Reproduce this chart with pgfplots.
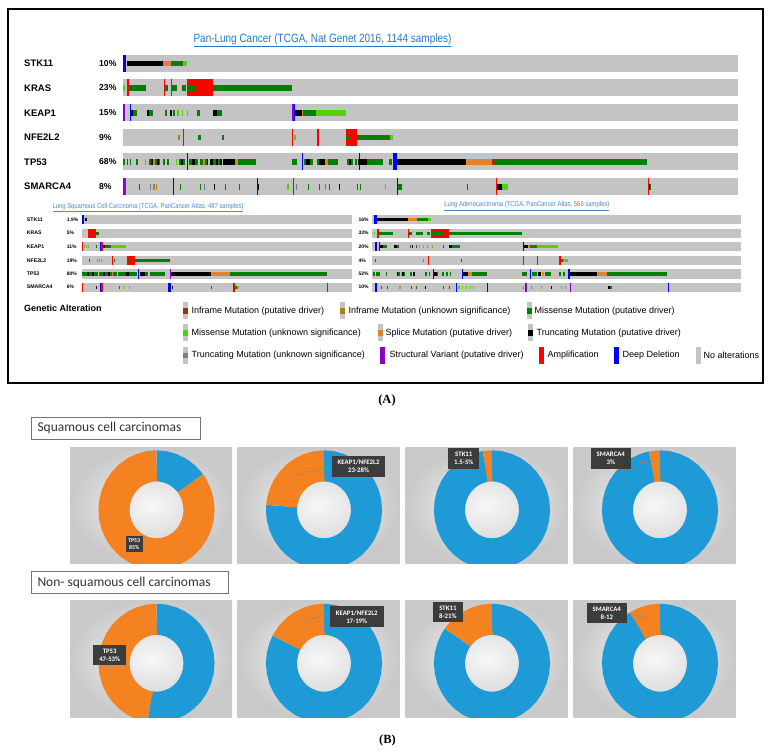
\documentclass[border=0pt]{standalone}
\usepackage{pgfplots}
\pgfplotsset{compat=1.18}
\usepackage{fontspec}
\setmainfont{Liberation Sans}
\newfontfamily\cond[FakeStretch=0.83]{Liberation Sans}
\newfontfamily\calib{Carlito}
\newfontfamily\serf{Liberation Serif}

\definecolor{nalt}{HTML}{C4C4C4}
\definecolor{mis}{HTML}{008000}
\definecolor{misu}{HTML}{53D400}
\definecolor{infr}{HTML}{993404}
\definecolor{infru}{HTML}{A68028}
\definecolor{spl}{HTML}{E5802B}
\definecolor{trc}{HTML}{000000}
\definecolor{trcu}{HTML}{708090}
\definecolor{sv}{HTML}{8B00C9}
\definecolor{amp}{HTML}{FF0000}
\definecolor{del}{HTML}{0000FF}
\definecolor{dblue}{HTML}{1E9BD7}
\definecolor{dorange}{HTML}{F58220}
\definecolor{lbl}{HTML}{3C3C3C}
\definecolor{ttl}{HTML}{2878C8}

\pgfplotsset{
  canvas/.style={at={(0pt,0pt)}, anchor=south west, width=774pt, height=754pt,
    scale only axis, xmin=0, xmax=774, ymin=0, ymax=754, y dir=reverse,
    hide axis, clip=false, unbounded coords=jump},
  panel/.style={anchor=south west, width=162pt, height=116.5pt, scale only axis,
    xmin=-1.526, xmax=1.332, ymin=-0.919, ymax=1.067,
    axis line style={draw=none}, xtick=\empty, ytick=\empty, clip=true,
    axis background/.style={shade, inner color=black!3, outer color=black!21}},
  mb/.style={line width=17pt},
  mm/.style={line width=5.7pt},
  sb/.style={line width=9.3pt},
  sm/.style={line width=3.3pt},
  ring/.style={line width=31pt, data cs=polar},
}
\tikzset{
  lblbox/.style={fill=lbl, text=white, align=center, inner xsep=6pt, inner ysep=4pt,
    font=\calib\bfseries\fontsize{6.8}{8}\selectfont},
  gene/.style={anchor=west, font=\bfseries\fontsize{9.5}{11}\selectfont, inner sep=0pt},
  pct/.style={anchor=west, font=\bfseries\fontsize{8.6}{10}\selectfont, inner sep=0pt},
  sgene/.style={anchor=west, font=\bfseries\fontsize{5.2}{6}\selectfont, inner sep=0pt},
  spct/.style={anchor=west, font=\bfseries\fontsize{5}{6}\selectfont, inner sep=0pt},
  leg/.style={anchor=west, font=\fontsize{9}{11}\selectfont, inner sep=0pt},
}

\begin{document}
\begin{tikzpicture}
\path[use as bounding box, fill=white] (0,0) rectangle (774pt,754pt);

% ---------------- panel A : oncoprints ----------------
\begin{axis}[canvas]
\addplot[black, line width=2pt] coordinates {(8.3,9.3)(763.3,9.3)(763.3,382.7)(8.3,382.7)} -- cycle;

\node[text=ttl, font=\cond\fontsize{12}{14}\selectfont] at (322.5,40)
  {\underline{Pan-Lung Cancer (TCGA, Nat Genet 2016, 1144 samples)}};

% main rows
\addplot[nalt, mb] coordinates {(123.3,63.5)(737.7,63.5) (nan,nan) (123.3,88)(737.7,88) (nan,nan)
  (123.3,112.8)(737.7,112.8) (nan,nan) (123.3,137.5)(737.7,137.5) (nan,nan)
  (123.3,162)(737.7,162) (nan,nan) (123.3,186.7)(737.7,186.7)};
% deep deletions
\addplot[del, mb] coordinates {(123.3,63.5)(126.3,63.5) (nan,nan) (129.5,112.8)(130.7,112.8) (nan,nan)
  (293.5,112.8)(294.7,112.8) (nan,nan) (187,162)(188.3,162) (nan,nan) (302,162)(303.3,162) (nan,nan)
  (358.5,162)(359.8,162) (nan,nan) (392.7,162)(396.7,162) (nan,nan) (173,186.7)(174.3,186.7) (nan,nan)
  (256.5,186.7)(257.7,186.7) (nan,nan) (397,186.7)(398.3,186.7)};
% amplifications
\addplot[amp, mb] coordinates {(126.7,88)(129.3,88) (nan,nan) (164,88)(165,88) (nan,nan) (170.7,88)(171.7,88) (nan,nan)
  (186.7,88)(213.3,88) (nan,nan) (183,137.5)(184,137.5) (nan,nan) (292,137.5)(293,137.5) (nan,nan)
  (316.7,137.5)(319,137.5) (nan,nan) (346,137.5)(356.7,137.5) (nan,nan) (124.5,186.7)(125.5,186.7) (nan,nan)
  (293,186.7)(294.3,186.7) (nan,nan) (496.3,186.7)(497.3,186.7) (nan,nan) (648,186.7)(649,186.7)};
% structural variants
\addplot[sv, mb] coordinates {(123.3,112.8)(124.8,112.8) (nan,nan) (292,112.8)(293.5,112.8) (nan,nan) (123.3,186.7)(124.5,186.7)};
% missense (putative driver)
\addplot[mis, mm] coordinates {(170.7,63.5)(183.3,63.5) (nan,nan)
  (129.3,88)(146,88) (nan,nan) (165,88)(168.3,88) (nan,nan) (172.3,88)(177.3,88) (nan,nan) (182.3,88)(186,88) (nan,nan)
  (186.7,88)(196,88) (nan,nan) (213.3,88)(291.7,88) (nan,nan)
  (132.7,112.8)(136.7,112.8) (nan,nan) (149.3,112.8)(153.3,112.8) (nan,nan) (165,112.8)(166.5,112.8) (nan,nan)
  (173.3,112.8)(174.5,112.8) (nan,nan) (196.7,112.8)(200,112.8) (nan,nan) (216.7,112.8)(221.7,112.8) (nan,nan)
  (302.7,112.8)(316,112.8) (nan,nan)
  (198.3,137.5)(201,137.5) (nan,nan) (221.7,137.5)(224.3,137.5) (nan,nan) (346,137.5)(348.5,137.5) (nan,nan)
  (356.7,137.5)(390,137.5) (nan,nan)
  (123.3,162)(125,162) (nan,nan) (126.5,162)(128,162) (nan,nan) (129.5,162)(131,162) (nan,nan) (136.2,162)(137.5,162) (nan,nan)
  (149,162)(151,162) (nan,nan) (155,162)(157,162) (nan,nan) (158.5,162)(160,162) (nan,nan) (163,162)(164.5,162) (nan,nan)
  (167,162)(168.5,162) (nan,nan) (178.7,162)(181,162) (nan,nan) (183,162)(185,162) (nan,nan) (189,162)(192,162) (nan,nan)
  (195,162)(198,162) (nan,nan) (200,162)(203,162) (nan,nan) (205,162)(207,162) (nan,nan) (213,162)(216,162) (nan,nan)
  (218,162)(220,162) (nan,nan) (224,162)(225.5,162) (nan,nan) (227,162)(228.5,162) (nan,nan) (238.3,162)(256,162) (nan,nan)
  (291.7,162)(296.7,162) (nan,nan) (304,162)(306,162) (nan,nan) (310,162)(313,162) (nan,nan) (316.5,162)(318.5,162) (nan,nan)
  (328.3,162)(338.3,162) (nan,nan) (346.7,162)(349,162) (nan,nan) (351,162)(353,162) (nan,nan) (354.5,162)(356.7,162) (nan,nan)
  (366.7,162)(383.3,162) (nan,nan) (389.3,162)(391.7,162) (nan,nan) (495,162)(647.3,162) (nan,nan)
  (139,186.7)(140.3,186.7) (nan,nan) (180,186.7)(181.3,186.7) (nan,nan) (200,186.7)(201.3,186.7) (nan,nan)
  (225,186.7)(226.3,186.7) (nan,nan) (239,186.7)(240.3,186.7) (nan,nan) (308,186.7)(309.3,186.7) (nan,nan)
  (319,186.7)(320.3,186.7) (nan,nan) (357,186.7)(358.3,186.7) (nan,nan) (359.8,186.7)(361,186.7) (nan,nan)
  (398.3,186.7)(401.7,186.7) (nan,nan) (466.5,186.7)(467.8,186.7) (nan,nan) (650,186.7)(651,186.7)};
% missense (unknown significance)
\addplot[misu, mm] coordinates {(183.3,63.5)(186.7,63.5) (nan,nan) (123.3,88)(124.8,88) (nan,nan)
  (177.3,112.8)(178.5,112.8) (nan,nan) (181.7,112.8)(182.9,112.8) (nan,nan) (186.7,112.8)(187.9,112.8) (nan,nan)
  (316,112.8)(346,112.8) (nan,nan) (294,137.5)(296,137.5) (nan,nan) (390,137.5)(393.3,137.5) (nan,nan)
  (145,162)(146,162) (nan,nan) (176,162)(177,162) (nan,nan) (230,162)(231,162) (nan,nan)
  (287,186.7)(289,186.7) (nan,nan) (501.7,186.7)(508.3,186.7)};
% truncating (putative driver)
\addplot[trc, mm] coordinates {(126.5,63.5)(163.3,63.5) (nan,nan)
  (130.7,112.8)(132.7,112.8) (nan,nan) (146.7,112.8)(149.3,112.8) (nan,nan) (170,112.8)(171.7,112.8) (nan,nan)
  (213.3,112.8)(216.7,112.8) (nan,nan) (295.3,112.8)(301.7,112.8) (nan,nan)
  (151,162)(153,162) (nan,nan) (157,162)(158.5,162) (nan,nan) (181,162)(183,162) (nan,nan) (192,162)(195,162) (nan,nan)
  (207,162)(208,162) (nan,nan) (210,162)(213,162) (nan,nan) (216,162)(218,162) (nan,nan) (220,162)(222,162) (nan,nan)
  (223,162)(235,162) (nan,nan) (306,162)(310,162) (nan,nan) (318.5,162)(325,162) (nan,nan) (349,162)(351,162) (nan,nan)
  (358,162)(366.7,162) (nan,nan) (396.7,162)(466,162) (nan,nan)
  (214,186.7)(215.3,186.7) (nan,nan) (257.7,186.7)(259,186.7) (nan,nan) (339,186.7)(340.3,186.7) (nan,nan)
  (497.3,186.7)(501.7,186.7) (nan,nan) (649,186.7)(650,186.7)};
% splice
\addplot[spl, mm] coordinates {(163.3,63.5)(170.7,63.5) (nan,nan) (301.7,112.8)(302.7,112.8) (nan,nan)
  (153,162)(155,162) (nan,nan) (203,162)(205,162) (nan,nan) (235,162)(238.3,162) (nan,nan) (325,162)(328.3,162) (nan,nan)
  (466,162)(491.7,162) (nan,nan) (385,186.7)(386.3,186.7)};
% inframe
\addplot[infr, mm] coordinates {(491.7,162)(495,162) (nan,nan) (329,186.7)(330.3,186.7)};
\addplot[infru, mm] coordinates {(178.3,137.5)(179.5,137.5) (nan,nan) (153.3,186.7)(154.5,186.7) (nan,nan)
  (155.5,186.7)(156.7,186.7) (nan,nan) (325,186.7)(326.3,186.7)};
\addplot[trcu, mm] coordinates {(150,186.7)(151.3,186.7) (nan,nan) (204,186.7)(205.3,186.7) (nan,nan) (296,186.7)(297.3,186.7)};

\node[gene] at (24,63.5) {STK11};   \node[pct] at (99,63.5) {10\%};
\node[gene] at (24,88) {KRAS};      \node[pct] at (99,88) {23\%};
\node[gene] at (24,112.8) {KEAP1};  \node[pct] at (99,112.8) {15\%};
\node[gene] at (24,137.5) {NFE2L2}; \node[pct] at (99,137.5) {9\%};
\node[gene] at (24,162) {TP53};     \node[pct] at (99,162) {68\%};
\node[gene] at (24,186.7) {SMARCA4};\node[pct] at (99,186.7) {8\%};

% sub oncoprints
\node[text=ttl!85, font=\cond\fontsize{7.1}{8}\selectfont] at (148,207.3)
  {\underline{Lung Squamous Cell Carcinoma (TCGA, PanCancer Atlas, 487 samples)}};
\node[text=ttl!85, font=\cond\fontsize{7.1}{8}\selectfont] at (526.8,206)
  {\underline{Lung Adenocarcinoma (TCGA, PanCancer Atlas, 566 samples)}};

\addplot[nalt, sb] coordinates {(82,219.5)(352.3,219.5) (nan,nan) (82,233.2)(352.3,233.2) (nan,nan)
  (82,246.8)(352.3,246.8) (nan,nan) (82,260.3)(352.3,260.3) (nan,nan) (82,274)(352.3,274) (nan,nan) (82,287.2)(352.3,287.2) (nan,nan)
  (372.3,219.5)(740.7,219.5) (nan,nan) (372.3,233.2)(740.7,233.2) (nan,nan) (372.3,246.8)(740.7,246.8) (nan,nan)
  (372.3,260.3)(740.7,260.3) (nan,nan) (372.3,274)(740.7,274) (nan,nan) (372.3,287.2)(740.7,287.2)};
\addplot[del, sb] coordinates {(82.3,219.5)(84.3,219.5) (nan,nan) (100,246.8)(101.3,246.8) (nan,nan) (137.8,274)(139,274) (nan,nan)
  (100,287.2)(101.3,287.2) (nan,nan) (168.3,287.2)(170.7,287.2) (nan,nan)
  (374,219.5)(377,219.5) (nan,nan) (375,246.8)(377,246.8) (nan,nan) (378.5,246.8)(379.7,246.8) (nan,nan) (522.8,246.8)(524,246.8) (nan,nan)
  (433.2,274)(434.4,274) (nan,nan) (461.8,274)(463,274) (nan,nan) (530.2,274)(531.4,274) (nan,nan) (567.7,274)(569.7,274) (nan,nan)
  (375,287.2)(376.7,287.2) (nan,nan) (455.5,287.2)(456.7,287.2) (nan,nan) (487.2,287.2)(488.4,287.2) (nan,nan) (667.8,287.2)(669,287.2)};
\addplot[amp, sb] coordinates {(87.7,233.2)(96,233.2) (nan,nan) (82,246.8)(83,246.8) (nan,nan) (101.3,246.8)(102.7,246.8) (nan,nan)
  (112,260.3)(113.3,260.3) (nan,nan) (126.7,260.3)(135,260.3) (nan,nan) (82,287.2)(83,287.2) (nan,nan) (101.3,287.2)(102.7,287.2) (nan,nan)
  (233.7,287.2)(234.5,287.2) (nan,nan) (326.7,287.2)(328,287.2) (nan,nan)
  (377,233.2)(379,233.2) (nan,nan) (408,233.2)(409,233.2) (nan,nan) (431,233.2)(449,233.2) (nan,nan)
  (427.5,260.3)(428.7,260.3) (nan,nan) (523,260.3)(524,260.3) (nan,nan) (537,260.3)(538.2,260.3) (nan,nan) (559,260.3)(560.7,260.3)};
\addplot[sv, sb] coordinates {(169.5,274)(171,274) (nan,nan) (232.7,287.2)(233.7,287.2) (nan,nan)
  (525,287.2)(526.7,287.2) (nan,nan) (569.5,287.2)(571,287.2)};
\addplot[mis, sm] coordinates {(96,233.2)(99.3,233.2) (nan,nan) (96,246.8)(97,246.8) (nan,nan) (105.3,246.8)(110.7,246.8) (nan,nan)
  (89,260.3)(90,260.3) (nan,nan) (114,260.3)(115,260.3) (nan,nan) (126.7,260.3)(129.5,260.3) (nan,nan) (135,260.3)(170,260.3) (nan,nan)
  (82.3,274)(87,274) (nan,nan) (89,274)(92,274) (nan,nan) (94,274)(98.3,274) (nan,nan) (99,274)(103,274) (nan,nan)
  (105,274)(108,274) (nan,nan) (110,274)(112,274) (nan,nan) (113,274)(116.7,274) (nan,nan) (118,274)(126,274) (nan,nan)
  (129,274)(136.7,274) (nan,nan) (145,274)(148.3,274) (nan,nan) (150,274)(165,274) (nan,nan) (230,274)(326.7,274) (nan,nan)
  (118.5,287.2)(119.7,287.2) (nan,nan) (211.2,287.2)(212.4,287.2) (nan,nan) (235,287.2)(236.5,287.2) (nan,nan)
  (416.7,219.5)(427.7,219.5) (nan,nan)
  (379,233.2)(393.3,233.2) (nan,nan) (409,233.2)(411.7,233.2) (nan,nan) (416,233.2)(422.7,233.2) (nan,nan) (426.7,233.2)(430,233.2) (nan,nan)
  (431,233.2)(443.3,233.2) (nan,nan) (449,233.2)(522.3,233.2) (nan,nan)
  (383.3,246.8)(386.7,246.8) (nan,nan) (396.7,246.8)(399,246.8) (nan,nan) (410,246.8)(411,246.8) (nan,nan) (415.5,246.8)(416.7,246.8) (nan,nan)
  (443,246.8)(444.3,246.8) (nan,nan) (451.7,246.8)(460,246.8) (nan,nan) (530,246.8)(536.7,246.8) (nan,nan)
  (374.5,260.3)(375.5,260.3) (nan,nan) (460.5,260.3)(461.7,260.3) (nan,nan) (560.7,260.3)(563.3,260.3) (nan,nan)
  (373,274)(375,274) (nan,nan) (376,274)(378.5,274) (nan,nan) (379,274)(380,274) (nan,nan) (386.3,274)(387.3,274) (nan,nan)
  (398,274)(400,274) (nan,nan) (404,274)(405,274) (nan,nan) (410,274)(412,274) (nan,nan) (425,274)(426.5,274) (nan,nan)
  (428.5,274)(430,274) (nan,nan) (436.5,274)(438.3,274) (nan,nan) (442,274)(443.5,274) (nan,nan) (446,274)(447.5,274) (nan,nan)
  (449.5,274)(451,274) (nan,nan) (472.3,274)(486.7,274) (nan,nan) (521.7,274)(526.7,274) (nan,nan) (531.5,274)(536.5,274) (nan,nan)
  (545,274)(551,274) (nan,nan) (559,274)(561,274) (nan,nan) (562.5,274)(565,274) (nan,nan) (606.7,274)(667.3,274) (nan,nan)
  (380.5,287.2)(381.7,287.2) (nan,nan) (387.2,287.2)(388.4,287.2) (nan,nan) (411.2,287.2)(412.4,287.2) (nan,nan)
  (415.5,287.2)(416.7,287.2) (nan,nan) (442.8,287.2)(444,287.2) (nan,nan) (448.8,287.2)(450,287.2) (nan,nan) (610.3,287.2)(611.7,287.2)};
\addplot[misu, sm] coordinates {(84,246.8)(85,246.8) (nan,nan) (86,246.8)(87,246.8) (nan,nan) (87.5,246.8)(88.3,246.8) (nan,nan)
  (110.7,246.8)(126,246.8) (nan,nan) (96.5,260.3)(97.5,260.3) (nan,nan) (99,260.3)(100,260.3) (nan,nan) (101,260.3)(102,260.3) (nan,nan)
  (124,287.2)(125,287.2) (nan,nan) (129,287.2)(130,287.2) (nan,nan) (236.5,287.2)(239.3,287.2) (nan,nan)
  (427.7,219.5)(431,219.5) (nan,nan) (373.5,233.2)(374.7,233.2) (nan,nan)
  (418.5,246.8)(419.7,246.8) (nan,nan) (423,246.8)(424,246.8) (nan,nan) (427,246.8)(428,246.8) (nan,nan) (432,246.8)(433,246.8) (nan,nan)
  (536.7,246.8)(558.3,246.8) (nan,nan) (563.3,260.3)(567.7,260.3) (nan,nan)
  (458.3,287.2)(459.5,287.2) (nan,nan) (462,287.2)(463,287.2) (nan,nan) (466,287.2)(467,287.2) (nan,nan) (469.5,287.2)(470.5,287.2) (nan,nan)
  (472.5,287.2)(473.5,287.2) (nan,nan) (561.2,287.2)(562.4,287.2) (nan,nan) (565.2,287.2)(566.4,287.2)};
\addplot[trc, sm] coordinates {(84.7,219.5)(86.7,219.5) (nan,nan) (102.7,246.8)(105.3,246.8) (nan,nan)
  (87,274)(89,274) (nan,nan) (92,274)(94,274) (nan,nan) (103,274)(105,274) (nan,nan) (108,274)(110,274) (nan,nan)
  (126,274)(129,274) (nan,nan) (140,274)(145,274) (nan,nan) (171,274)(210.7,274) (nan,nan)
  (95.5,287.2)(96.7,287.2) (nan,nan) (171.5,287.2)(172.7,287.2) (nan,nan)
  (377,219.5)(408.3,219.5) (nan,nan)
  (380,246.8)(383.3,246.8) (nan,nan) (394.3,246.8)(396.7,246.8) (nan,nan) (411.5,246.8)(412.7,246.8) (nan,nan)
  (449.3,246.8)(451.7,246.8) (nan,nan) (524,246.8)(527.7,246.8) (nan,nan)
  (396.7,274)(398,274) (nan,nan) (402,274)(403.5,274) (nan,nan) (413,274)(415,274) (nan,nan) (434.4,274)(436.5,274) (nan,nan)
  (463.3,274)(468.3,274) (nan,nan) (537.5,274)(541,274) (nan,nan) (569.7,274)(597.3,274) (nan,nan)
  (425.2,287.2)(426.4,287.2) (nan,nan) (551.2,287.2)(552.4,287.2) (nan,nan) (608.3,287.2)(610.3,287.2)};
\addplot[spl, sm] coordinates {(112,274)(113,274) (nan,nan) (210.7,274)(230,274) (nan,nan)
  (408.3,219.5)(416.7,219.5) (nan,nan) (527.7,246.8)(530,246.8) (nan,nan)
  (400.5,274)(401.5,274) (nan,nan) (468.3,274)(472.3,274) (nan,nan) (542,274)(543.5,274) (nan,nan) (597.3,274)(606.7,274) (nan,nan)
  (399.4,287.2)(400.6,287.2) (nan,nan) (541.2,287.2)(542.4,287.2)};
\addplot[infru, sm] coordinates {(423,260.3)(424,260.3) (nan,nan) (523,287.2)(524,287.2)};
\addplot[trcu, sm] coordinates {(531.2,287.2)(532.4,287.2)};

\node[sgene] at (26.7,219.5) {STK11};   \node[spct] at (66.7,219.5) {1.9\%}; \node[spct] at (358.3,219.5) {16\%};
\node[sgene] at (26.7,233.2) {KRAS};    \node[spct] at (66.7,233.2) {5\%};   \node[spct] at (358.3,233.2) {33\%};
\node[sgene] at (26.7,246.8) {KEAP1};   \node[spct] at (66.7,246.8) {11\%};  \node[spct] at (358.3,246.8) {20\%};
\node[sgene] at (26.7,260.3) {NFE2L2};  \node[spct] at (66.7,260.3) {19\%};  \node[spct] at (358.3,260.3) {4\%};
\node[sgene] at (26.7,274) {TP53};      \node[spct] at (66.7,274) {80\%};    \node[spct] at (358.3,274) {52\%};
\node[sgene] at (26.7,287.2) {SMARCA4}; \node[spct] at (66.7,287.2) {6\%};   \node[spct] at (358.3,287.2) {10\%};

% legend
\node[anchor=west, font=\bfseries\fontsize{9}{11}\selectfont, inner sep=0pt] at (24,308.5) {Genetic Alteration};
\addplot[nalt, line width=5pt] coordinates {(185,302.4)(185,319) (nan,nan) (342.5,302.4)(342.5,319) (nan,nan) (529,302.4)(529,319) (nan,nan)
  (185,324.4)(185,341) (nan,nan) (380,324.4)(380,341) (nan,nan) (530,324.4)(530,341) (nan,nan)
  (185,347.2)(185,363.8) (nan,nan) (698.5,347.2)(698.5,363.8)};
\addplot[infr, line width=5pt] coordinates {(185,307.9)(185,313.5)};
\addplot[infru, line width=5pt] coordinates {(342.5,307.9)(342.5,313.5)};
\addplot[mis, line width=5pt] coordinates {(529,307.9)(529,313.5)};
\addplot[misu, line width=5pt] coordinates {(185,329.9)(185,335.5)};
\addplot[spl, line width=5pt] coordinates {(380,329.9)(380,335.5)};
\addplot[trc, line width=5pt] coordinates {(530,329.9)(530,335.5)};
\addplot[trcu, line width=5pt] coordinates {(185,352.7)(185,358.3)};
\addplot[sv, line width=5pt] coordinates {(382.5,347.2)(382.5,363.8)};
\addplot[amp, line width=5pt] coordinates {(541.5,347.2)(541.5,363.8)};
\addplot[del, line width=5pt] coordinates {(616.5,347.2)(616.5,363.8)};

\node[leg] at (191.5,310.7) {Inframe Mutation (putative driver)};
\node[leg] at (348.5,310.7) {Inframe Mutation (unknown significance)};
\node[leg] at (534.5,310.7) {Missense Mutation (putative driver)};
\node[leg] at (191.5,332.7) {Missense Mutation (unknown significance)};
\node[leg] at (385.5,332.7) {Splice Mutation (putative driver)};
\node[leg] at (536.5,332.7) {Truncating Mutation (putative driver)};
\node[leg] at (191.5,355.5) {Truncating Mutation (unknown significance)};
\node[leg] at (389.5,355.5) {Structural Variant (putative driver)};
\node[leg] at (547.5,355.5) {Amplification};
\node[leg] at (622.5,355.5) {Deep Deletion};
\node[leg] at (703.5,355.5) {No alterations};

\node[font=\serf\bfseries\fontsize{12.5}{14}\selectfont] at (387,400) {(A)};
\node[font=\serf\bfseries\fontsize{12.5}{14}\selectfont] at (387.5,740.7) {(B)};

% panel B headers
\addplot[draw=black!55, line width=0.8pt, fill=white] coordinates {(31.7,417.3)(200,417.3)(200,439.3)(31.7,439.3)} -- cycle;
\node[anchor=west, text=black!80, font=\calib\fontsize{13.5}{15}\selectfont, inner sep=0pt] at (37.3,428.3) {Squamous cell carcinomas};
\addplot[draw=black!55, line width=0.8pt, fill=white] coordinates {(31.7,571.7)(228,571.7)(228,593.3)(31.7,593.3)} -- cycle;
\node[anchor=west, text=black!80, font=\calib\fontsize{13.5}{15}\selectfont, inner sep=0pt] at (37.3,582.5) {Non- squamous cell carcinomas};
\end{axis}

% ---------------- panel B : donuts ----------------
% squamous row
\begin{axis}[panel, at={(70pt,190.2pt)}]
\addplot[dblue, ring] coordinates {(90,.75)(89,.75)(80,.75)(70,.75)(60,.75)(50,.75)(40,.75)(38,.75)(37,.75)};
\addplot[dorange, ring] coordinates {(37,.75)(36,.75)(30,.75)(20,.75)(10,.75)(0,.75)(-10,.75)(-20,.75)(-30,.75)(-40,.75)
  (-50,.75)(-60,.75)(-70,.75)(-80,.75)(-90,.75)(-100,.75)(-110,.75)(-120,.75)(-130,.75)(-140,.75)(-150,.75)(-160,.75)
  (-170,.75)(-180,.75)(-190,.75)(-200,.75)(-210,.75)(-220,.75)(-230,.75)(-240,.75)(-250,.75)(-260,.75)(-269,.75)(-270,.75)};
\end{axis}
\begin{axis}[panel, at={(237.5pt,190.2pt)}]
\addplot[dblue, ring] coordinates {(90,.75)(89,.75)(80,.75)(70,.75)(60,.75)(50,.75)(40,.75)(30,.75)(20,.75)(10,.75)(0,.75)
  (-10,.75)(-20,.75)(-30,.75)(-40,.75)(-50,.75)(-60,.75)(-70,.75)(-80,.75)(-90,.75)(-100,.75)(-110,.75)(-120,.75)
  (-130,.75)(-140,.75)(-150,.75)(-160,.75)(-170,.75)(-180,.75)(-184,.75)(-185,.75)};
\addplot[dorange, ring] coordinates {(-185,.75)(-186,.75)(-190,.75)(-200,.75)(-210,.75)(-220,.75)(-230,.75)(-240,.75)
  (-250,.75)(-260,.75)(-269,.75)(-270,.75)};
\end{axis}
\begin{axis}[panel, at={(405.5pt,190.2pt)}]
\addplot[dblue, ring] coordinates {(90,.75)(89,.75)(80,.75)(70,.75)(60,.75)(50,.75)(40,.75)(30,.75)(20,.75)(10,.75)(0,.75)
  (-10,.75)(-20,.75)(-30,.75)(-40,.75)(-50,.75)(-60,.75)(-70,.75)(-80,.75)(-90,.75)(-100,.75)(-110,.75)(-120,.75)
  (-130,.75)(-140,.75)(-150,.75)(-160,.75)(-170,.75)(-180,.75)(-190,.75)(-200,.75)(-210,.75)(-220,.75)(-230,.75)
  (-240,.75)(-250,.75)(-260,.75)(-261,.75)};
\addplot[dorange, ring] coordinates {(-261,.75)(-262,.75)(-269,.75)(-270,.75)};
\end{axis}
\begin{axis}[panel, at={(573.5pt,190.2pt)}]
\addplot[dblue, ring] coordinates {(90,.75)(89,.75)(80,.75)(70,.75)(60,.75)(50,.75)(40,.75)(30,.75)(20,.75)(10,.75)(0,.75)
  (-10,.75)(-20,.75)(-30,.75)(-40,.75)(-50,.75)(-60,.75)(-70,.75)(-80,.75)(-90,.75)(-100,.75)(-110,.75)(-120,.75)
  (-130,.75)(-140,.75)(-150,.75)(-160,.75)(-170,.75)(-180,.75)(-190,.75)(-200,.75)(-210,.75)(-220,.75)(-230,.75)
  (-240,.75)(-250,.75)(-258.2,.75)(-259.2,.75)};
\addplot[dorange, ring] coordinates {(-259.2,.75)(-260.2,.75)(-269,.75)(-270,.75)};
\end{axis}
% non-squamous row
\begin{axis}[panel, at={(70pt,36.8pt)}]
\addplot[dblue, ring] coordinates {(90,.75)(89,.75)(80,.75)(70,.75)(60,.75)(50,.75)(40,.75)(30,.75)(20,.75)(10,.75)(0,.75)
  (-10,.75)(-20,.75)(-30,.75)(-40,.75)(-50,.75)(-60,.75)(-70,.75)(-80,.75)(-90,.75)(-98,.75)(-99,.75)};
\addplot[dorange, ring] coordinates {(-99,.75)(-100,.75)(-110,.75)(-120,.75)(-130,.75)(-140,.75)(-150,.75)(-160,.75)
  (-170,.75)(-180,.75)(-190,.75)(-200,.75)(-210,.75)(-220,.75)(-230,.75)(-240,.75)(-250,.75)(-260,.75)(-269,.75)(-270,.75)};
\end{axis}
\begin{axis}[panel, at={(237.5pt,36.8pt)}]
\addplot[dblue, ring] coordinates {(90,.75)(89,.75)(80,.75)(70,.75)(60,.75)(50,.75)(40,.75)(30,.75)(20,.75)(10,.75)(0,.75)
  (-10,.75)(-20,.75)(-30,.75)(-40,.75)(-50,.75)(-60,.75)(-70,.75)(-80,.75)(-90,.75)(-100,.75)(-110,.75)(-120,.75)
  (-130,.75)(-140,.75)(-150,.75)(-160,.75)(-170,.75)(-180,.75)(-190,.75)(-200,.75)(-207,.75)(-208,.75)};
\addplot[dorange, ring] coordinates {(-208,.75)(-209,.75)(-210,.75)(-220,.75)(-230,.75)(-240,.75)(-250,.75)(-260,.75)
  (-269,.75)(-270,.75)};
\end{axis}
\begin{axis}[panel, at={(405.5pt,36.8pt)}]
\addplot[dblue, ring] coordinates {(90,.75)(89,.75)(80,.75)(70,.75)(60,.75)(50,.75)(40,.75)(30,.75)(20,.75)(10,.75)(0,.75)
  (-10,.75)(-20,.75)(-30,.75)(-40,.75)(-50,.75)(-60,.75)(-70,.75)(-80,.75)(-90,.75)(-100,.75)(-110,.75)(-120,.75)
  (-130,.75)(-140,.75)(-150,.75)(-160,.75)(-170,.75)(-180,.75)(-190,.75)(-200,.75)(-210,.75)(-215,.75)(-216,.75)};
\addplot[dorange, ring] coordinates {(-216,.75)(-217,.75)(-220,.75)(-230,.75)(-240,.75)(-250,.75)(-260,.75)(-269,.75)(-270,.75)};
\end{axis}
\begin{axis}[panel, at={(573.5pt,36.8pt)}]
\addplot[dblue, ring] coordinates {(90,.75)(89,.75)(80,.75)(70,.75)(60,.75)(50,.75)(40,.75)(30,.75)(20,.75)(10,.75)(0,.75)
  (-10,.75)(-20,.75)(-30,.75)(-40,.75)(-50,.75)(-60,.75)(-70,.75)(-80,.75)(-90,.75)(-100,.75)(-110,.75)(-120,.75)
  (-130,.75)(-140,.75)(-150,.75)(-160,.75)(-170,.75)(-180,.75)(-190,.75)(-200,.75)(-210,.75)(-220,.75)(-230,.75)
  (-238,.75)(-239,.75)};
\addplot[dorange, ring] coordinates {(-239,.75)(-240,.75)(-250,.75)(-260,.75)(-269,.75)(-270,.75)};
\end{axis}

% ---------------- data labels over the donuts ----------------
\begin{axis}[canvas]
\draw[black!45, line width=0.5pt] (293.8,476) -- (329.9,466.3);
\draw[black!45, line width=0.5pt] (626.7,461) -- (649,463);
\draw[black!45, line width=0.5pt] (301.7,622.3) -- (326.7,614);
\draw[black!45, line width=0.5pt] (629,614) -- (650,618);
\node[lblbox, inner xsep=2.5pt, inner ysep=2.5pt, font=\calib\bfseries\fontsize{5.8}{7}\selectfont] at (134.2,544.2) {TP53\\85\%};
\node[lblbox] at (358.6,466.3) {KEAP1/NFE2L2\\23-28\%};
\node[lblbox] at (463.8,458.3) {STK11\\1.5-5\%};
\node[lblbox] at (610.8,458.3) {SMARCA4\\3\%};
\node[lblbox] at (109.7,655) {TP53\\47-53\%};
\node[lblbox] at (356.7,616.8) {KEAP1/NFE2L2\\17-19\%};
\node[lblbox] at (447.9,612.2) {STK11\\8-21\%};
\node[lblbox] at (606.8,612.8) {SMARCA4\\8-12};
\end{axis}
\end{tikzpicture}
\end{document}
